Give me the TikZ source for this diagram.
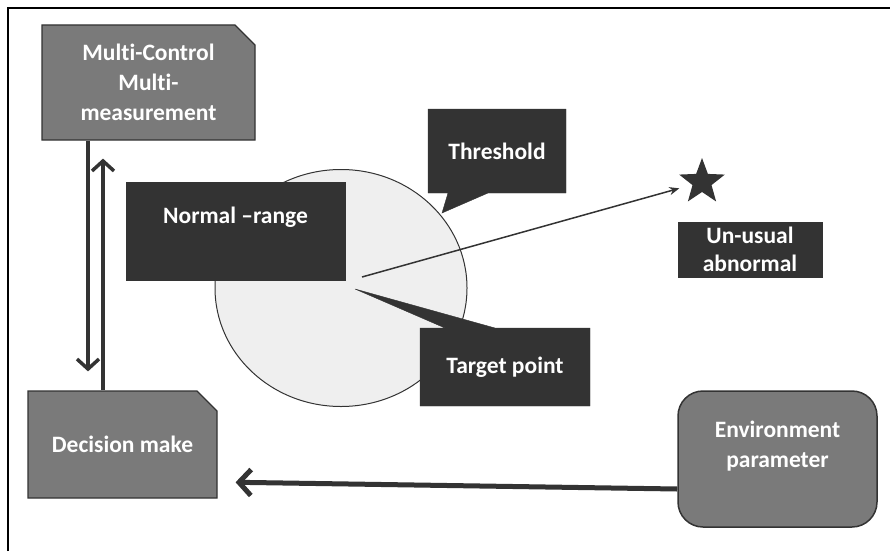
\documentclass[tikz,border=0pt]{standalone}
\usepackage{fontspec}
\setmainfont{Carlito}[Ligatures=CommonOff]
\usetikzlibrary{shapes.misc,shapes.geometric,shapes.callouts,arrows.meta}

\definecolor{boxgray}{HTML}{7A7A7A}
\definecolor{boxdark}{HTML}{333333}
\definecolor{zonefill}{HTML}{EFEFEF}

\tikzset{
  graybox/.style={chamfered rectangle, chamfered rectangle corners=north east,
    chamfered rectangle xsep=10pt, chamfered rectangle ysep=10pt,
    fill=boxgray, draw=boxdark, line width=1.2pt, text=white, align=center},
  darkbox/.style={fill=boxdark, draw=boxdark, text=white, align=center},
  thickarrow/.style={draw=boxdark, line width=3.5pt,
    -{Straight Barb[length=10pt,width=22pt]}},
}

\begin{document}
\begin{tikzpicture}[x=1pt,y=-1pt,font=\fontsize{23.5}{30}\selectfont\bfseries]
  \useasboundingbox (0,0) rectangle (890,551);
  % frame
  \draw[line width=2pt] (8,551) -- (8,8) -- (890,8);

  % normal zone
  \node[ellipse, fill=zonefill, draw=boxdark, line width=1pt,
    minimum width=252pt, minimum height=237pt] (zone) at (341,288) {};

  % control boxes
  \node[graybox, minimum width=213pt, minimum height=115pt] (multi) at (148.5,82.5)
    {Multi-Control\\Multi-\\measurement};
  \node[graybox, minimum width=189pt, minimum height=107pt] (decision) at (122.5,444.5)
    {Decision make};
  \node[fill=boxgray, draw=boxdark, line width=1.5pt, rounded corners=25pt,
    minimum width=199pt, minimum height=136pt, text=white, align=center,
    text depth=29pt] (env) at (777.5,459) {Environment\\parameter};

  % labels on the zone
  \node[darkbox, minimum width=219pt, minimum height=98pt, text depth=32pt]
    (normal) at (235.5,231) {Normal –range};
  \node[darkbox, rectangle callout, minimum width=138pt, minimum height=84pt,
    callout absolute pointer={(442,213)}, callout pointer width=40pt]
    (thresh) at (497,151) {Threshold};
  \node[darkbox, rectangle callout, minimum width=170pt, minimum height=78pt,
    callout absolute pointer={(355,289)}, callout pointer width=50pt]
    (target) at (505,367) {Target point};

  % abnormal point
  \node[star, star points=5, star point ratio=2.4, fill=boxdark,
    minimum size=48pt, inner sep=0pt] (odd) at (702,182) {};
  \node[darkbox, minimum width=144pt, minimum height=55pt, inner ysep=1pt,
    font=\fontsize{23.5}{28}\selectfont\bfseries] (unusual) at (750,249.5)
    {Un-usual\\abnormal};
  \coordinate (aim) at (362,277);
  \draw[boxdark, line width=1.5pt, shorten >=13pt,
    -{Stealth[length=10pt,width=8pt]}] (aim) -- (odd);

  % arrows
  \draw[thickarrow, shorten >=19pt] ([xshift=-60.5pt]multi.south)
    -- ([xshift=-34.5pt]decision.north);
  \draw[thickarrow, shorten >=18pt] ([xshift=-19.5pt]decision.north)
    -- ([xshift=-45.5pt]multi.south);
  \draw[thickarrow, line width=5pt, shorten >=18pt,
    -{Straight Barb[length=12pt,width=26pt]}] ([yshift=-30pt]env.west)
    -- ([yshift=-37.5pt]decision.east);
\end{tikzpicture}
\end{document}
